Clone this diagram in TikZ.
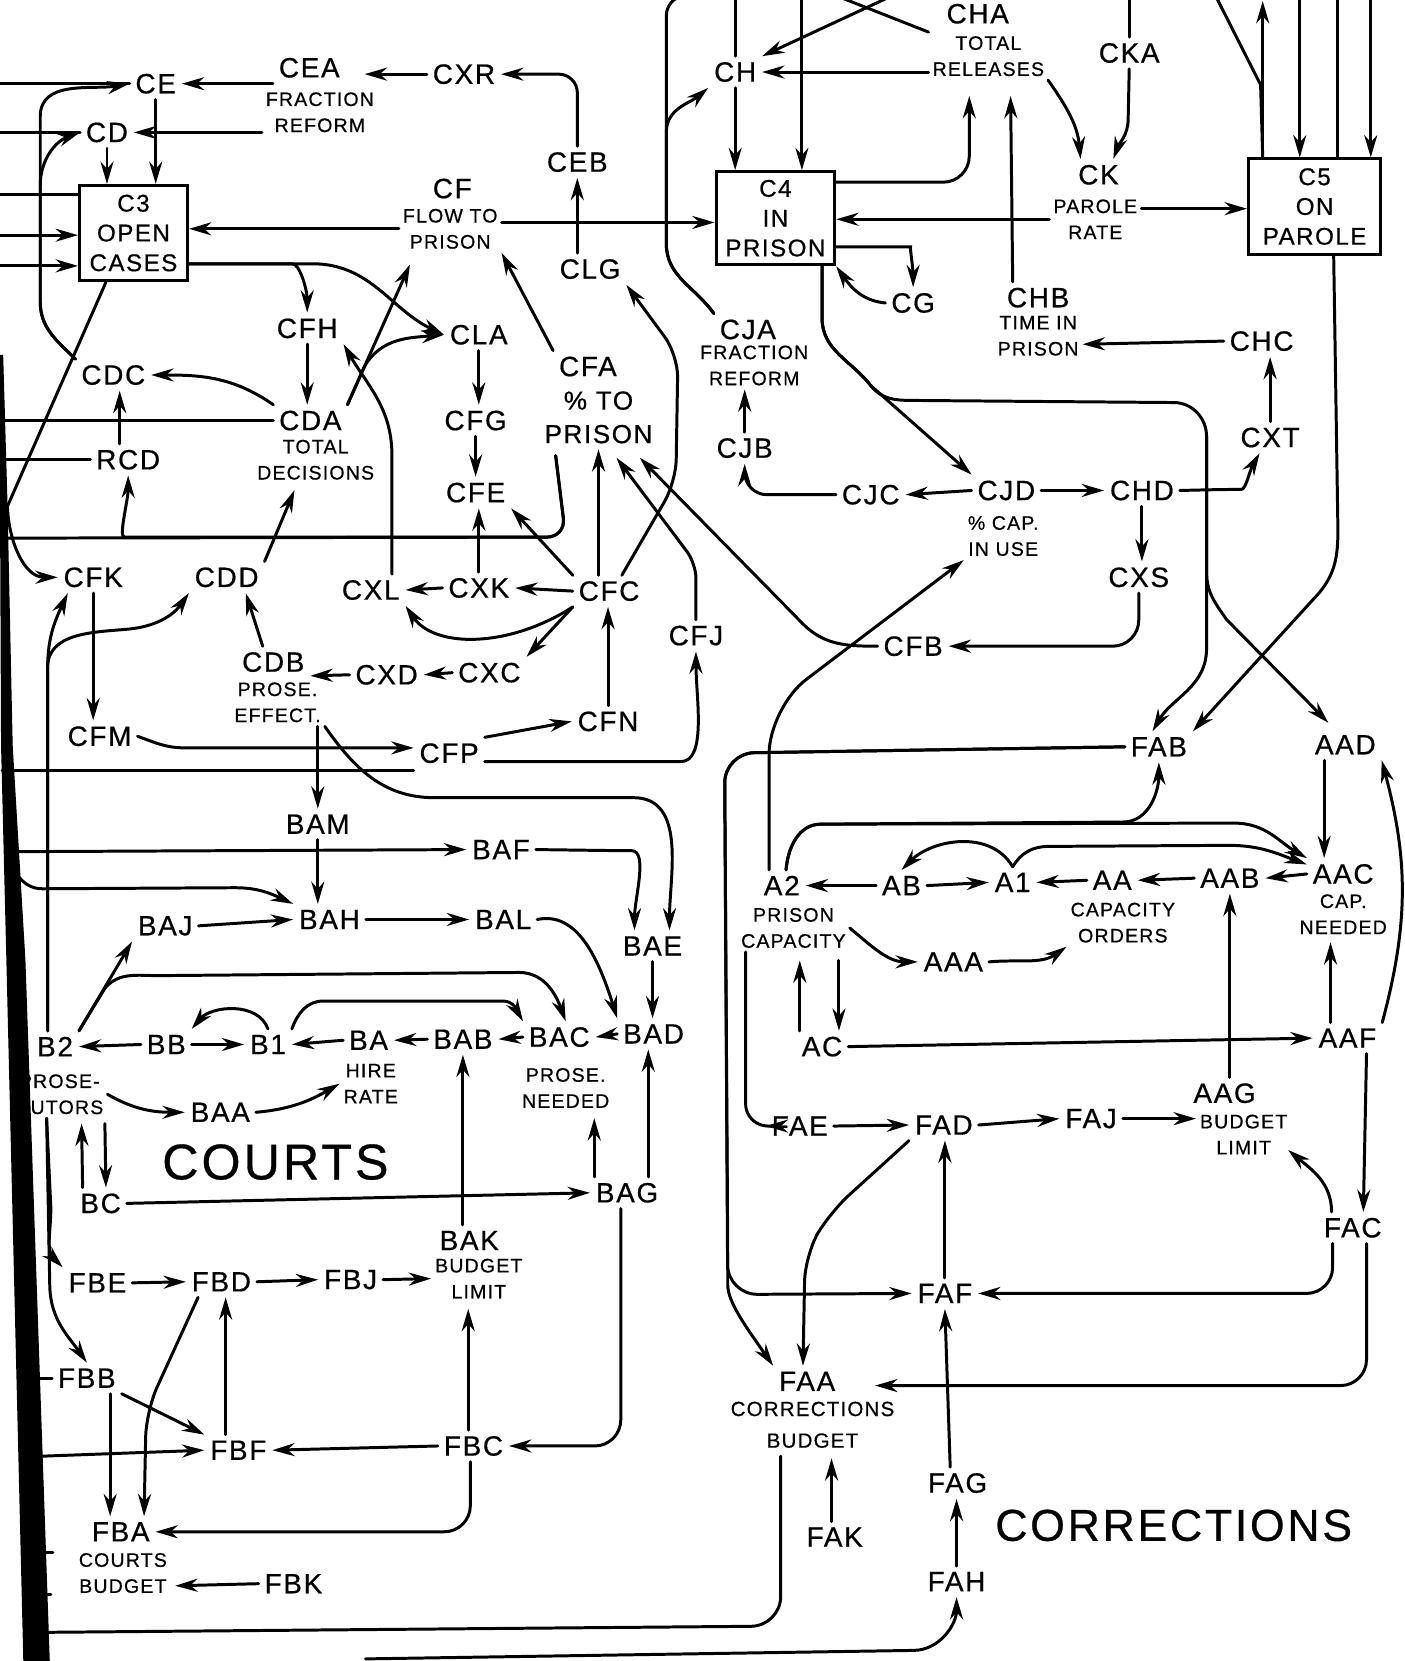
\documentclass[tikz,border=0pt]{standalone}
\usepackage{fontspec}
\setmainfont{Liberation Sans}[LetterSpace=6, FakeBold=0.6]
\usetikzlibrary{arrows.meta,positioning,calc}

\begin{document}
\begin{tikzpicture}[x=0.02cm, y=-0.02cm,
          var/.style={font=\fontsize{15}{17}\selectfont, inner sep=3pt},
          dsc/.style={font=\fontsize{10.5}{14}\selectfont, align=center, inner sep=2pt},
          box/.style={draw, line width=1.6pt, align=center, inner sep=1pt,
                      font=\fontsize{13}{16}\selectfont},
          ttl/.style={font=\fontsize{27}{30}\selectfont, inner sep=2pt},
          ln/.style={line width=1.6pt, line cap=round},
          arr/.style={ln, -{Stealth[length=12pt, width=7pt]}}
        ]
          \useasboundingbox[fill=white] (0,0) rectangle (1326,1568);
          % free ends at the left edge and the top edge
          \coordinate (wL) at (0,0);
          \coordinate (wC3a) at (0,184);
          \coordinate (wC3b) at (0,222);
          \coordinate (wC3c) at (0,251);
          \coordinate (wBot) at (0,508);
          \coordinate (wCFP) at (2,727);
          \coordinate (wBAF) at (8,804);
          \coordinate (wFBB) at (28,1301);
          \coordinate (wFBF) at (30,1375);
          \coordinate (wFBA) at (32,1466);
          \coordinate (wFBA2) at (32,1505);
          \coordinate (wFAA) at (34,1541);
          \coordinate (sFAH) at (345,1566);
          \coordinate (tT) at (0,-2);
          \coordinate (tC4) at (757,-2);
          \coordinate (tCJA) at (645,-3);
          \coordinate (tCHA) at (792,-3);
          \coordinate (tCH2) at (840,-3);
          \coordinate (tCKA) at (1066,-3);
          \coordinate (tC5a) at (1192,1);
          \coordinate (tC5b) at (1148,-3);
          \coordinate (tC5c) at (1227,-3);
          \coordinate (tC5d) at (1263,-3);
          \coordinate (tC5e) at (1294,-3);

          % levels
          \node[box, minimum width=2.04cm, minimum height=1.8cm] (C3) at (126,220) {C3\\OPEN\\CASES};
          \node[box, minimum width=2.24cm, minimum height=1.76cm] (C4) at (732,206) {C4\\IN\\PRISON};
          \node[box, minimum width=2.5cm, minimum height=1.8cm] (C5) at (1241,195) {C5\\ON\\PAROLE};

          % courts variables
          \node[var] (CE) at (147,79) {CE};
          \node[var] (CEA) at (292,64) {CEA};
          \node[dsc] (CEAd) at (302,106) {FRACTION\\REFORM};
          \node[var] (CXR) at (438,70) {CXR};
          \node[var] (CD) at (101,125) {CD};
          \node[var] (CEB) at (545,153) {CEB};
          \node[var] (CF) at (427,178) {CF};
          \node[dsc] (CFd) at (425,216) {FLOW TO\\PRISON};
          \node[var] (CLG) at (557,254) {CLG};
          \node[var] (CFH) at (290,310) {CFH};
          \node[var] (CLA) at (452,316) {CLA};
          \node[var] (CFA) at (555,346) {CFA};
          \node[var, align=center, font=\fontsize{14}{18}\selectfont] (CFAd) at (565,394) {\% TO\\PRISON};
          \node[var] (CDC) at (107,354) {CDC};
          \node[var] (CDA) at (293,397) {CDA};
          \node[dsc] (CDAd) at (298,434) {TOTAL\\DECISIONS};
          \node[var] (CFG) at (449,397) {CFG};
          \node[var] (RCD) at (121,434) {RCD};
          \node[var] (CFE) at (449,465) {CFE};
          \node[var] (CFK) at (88,545) {CFK};
          \node[var] (CDD) at (214,545) {CDD};
          \node[var] (CXL) at (350,557) {CXL};
          \node[var] (CXK) at (452,555) {CXK};
          \node[var] (CFC) at (575,558) {CFC};
          \node[var] (CFJ) at (657,600) {CFJ};
          \node[var] (CDB) at (258,625) {CDB};
          \node[dsc] (CDBd) at (262,663) {PROSE.\\EFFECT.};
          \node[var] (CXD) at (365,637) {CXD};
          \node[var] (CXC) at (462,635) {CXC};
          \node[var] (CFN) at (574,681) {CFN};
          \node[var] (CFM) at (94,695) {CFM};
          \node[var] (CFP) at (424,711) {CFP};
          \node[var] (BAM) at (300,778) {BAM};
          \node[var] (BAF) at (473,802) {BAF};
          \node[var] (BAJ) at (156,874) {BAJ};
          \node[var] (BAH) at (311,868) {BAH};
          \node[var] (BAL) at (475,868) {BAL};
          \node[var] (BAE) at (616,893) {BAE};
          \node[var] (B2) at (52,988) {B2};
          \node[dsc] (B2d) at (56,1033) {PROSE-\\CUTORS};
          \node[var] (BB) at (157,986) {BB};
          \node[var] (B1) at (253,986) {B1};
          \node[var] (BA) at (348,982) {BA};
          \node[dsc] (BAd) at (350,1023) {HIRE\\RATE};
          \node[var] (BAB) at (437,981) {BAB};
          \node[var] (BAC) at (528,979) {BAC};
          \node[dsc] (BACd) at (534,1027) {PROSE.\\NEEDED};
          \node[var] (BAD) at (617,976) {BAD};
          \node[var] (BAA) at (208,1050) {BAA};
          \node[ttl] (courts) at (260,1097) {COURTS};
          \node[var] (BC) at (95,1136) {BC};
          \node[var] (BAG) at (592,1126) {BAG};
          \node[var] (BAK) at (443,1171) {BAK};
          \node[dsc] (BAKd) at (452,1207) {BUDGET\\LIMIT};
          \node[var] (FBE) at (92,1211) {FBE};
          \node[var] (FBD) at (209,1210) {FBD};
          \node[var] (FBJ) at (331,1208) {FBJ};
          \node[var] (FBB) at (82,1301) {FBB};
          \node[var] (FBF) at (225,1369) {FBF};
          \node[var] (FBC) at (447,1365) {FBC};
          \node[var] (FBA) at (114,1446) {FBA};
          \node[dsc] (FBAd) at (116,1485) {COURTS\\BUDGET};
          \node[var] (FBK) at (277,1495) {FBK};

          % corrections variables
          \node[var] (CH) at (694,68) {CH};
          \node[var] (CHA) at (923,13) {CHA};
          \node[dsc] (CHAd) at (933,53) {TOTAL\\RELEASES};
          \node[var] (CKA) at (1066,50) {CKA};
          \node[var] (CK) at (1037,165) {CK};
          \node[dsc] (CKd) at (1034,207) {PAROLE\\RATE};
          \node[var] (CG) at (862,286) {CG};
          \node[var] (CJA) at (706,311) {CJA};
          \node[dsc] (CJAd) at (712,345) {FRACTION\\REFORM};
          \node[var] (CHB) at (980,281) {CHB};
          \node[dsc] (CHBd) at (980,317) {TIME IN\\PRISON};
          \node[var] (CHC) at (1191,322) {CHC};
          \node[var] (CXT) at (1199,413) {CXT};
          \node[var] (CJB) at (703,423) {CJB};
          \node[var] (CJC) at (822,467) {CJC};
          \node[var] (CJD) at (950,463) {CJD};
          \node[dsc] (CJDd) at (947,506) {\% CAP.\\IN USE};
          \node[var] (CHD) at (1078,463) {CHD};
          \node[var] (CXS) at (1075,545) {CXS};
          \node[var] (CFB) at (862,610) {CFB};
          \node[var] (FAB) at (1094,705) {FAB};
          \node[var] (AAD) at (1270,703) {AAD};
          \node[var] (A2) at (738,836) {A2};
          \node[dsc] (A2d) at (749,876) {PRISON\\CAPACITY};
          \node[var] (AB) at (851,836) {AB};
          \node[var] (A1) at (956,833) {A1};
          \node[var] (AA) at (1050,831) {AA};
          \node[dsc] (AAd) at (1060,871) {CAPACITY\\ORDERS};
          \node[var] (AAB) at (1161,829) {AAB};
          \node[var] (AAC) at (1268,825) {AAC};
          \node[dsc] (AACd) at (1268,863) {CAP.\\NEEDED};
          \node[var] (AAA) at (900,908) {AAA};
          \node[var] (AC) at (776,988) {AC};
          \node[var] (AAF) at (1272,980) {AAF};
          \node[var] (AAG) at (1156,1032) {AAG};
          \node[dsc] (AAGd) at (1174,1071) {BUDGET\\LIMIT};
          \node[var] (FAE) at (755,1063) {FAE};
          \node[var] (FAD) at (891,1062) {FAD};
          \node[var] (FAJ) at (1030,1056) {FAJ};
          \node[var] (FAC) at (1277,1159) {FAC};
          \node[var] (FAF) at (892,1221) {FAF};
          \node[var] (FAA) at (762,1304) {FAA};
          \node[dsc, font=\fontsize{11}{17}\selectfont] (FAAd) at (767,1345) {CORRECTIONS\\BUDGET};
          \node[var] (FAG) at (904,1400) {FAG};
          \node[ttl, font=\fontsize{24}{30}\selectfont] (corr) at (1108,1440) {CORRECTIONS};
          \node[var] (FAK) at (788,1451) {FAK};
          \node[var] (FAH) at (903,1493) {FAH};

          % open cases
          \draw[ln] (CE.west) -- (CE.west -| wL);
          \draw[arr] (CEA.west |- CE) -- (CE.east);
          \draw[arr] (CXR.west) -- ($(CEA.east |- CXR.west)+(18,0)$);
          \draw[arr, rounded corners=10pt] (CEB.north) |- (CXR.east);
          \draw[arr] (CLG.north -| CEB) -- (CEB.south);
          \draw[arr] (CEAd.west |- CD) -- (CD.east);
          \draw[ln] (CD.west) -- (CD.west -| wL);
          \draw[arr] (CE.south) -- (CE.south |- C3.north);
          \draw[arr] (CD.south) -- (CD.south |- C3.north);
          \draw[arr] (CDC.north west) to[out=135,in=-90] (38,285) -- (38,110) to[out=90,in=190] (CE.west);
          \draw[arr] (CDC.north west) to[out=135,in=-90] (38,285) -- (38,175) to[out=90,in=200] (CD.west);
          \draw[ln] (wC3a) -- (wC3a -| C3.west);
          \draw[arr] (wC3b) -- (wC3b -| C3.west);
          \draw[arr] (wC3c) -- (wC3c -| C3.west);
          \draw[arr] (CFd.west) -- (CFd.west -| C3.east);
          \draw[arr] ($(CFd.east)+(0,-6)$) -- ($(CFd.east -| C4.west)+(0,-6)$);
          \draw[arr, rounded corners=8pt] ($(C3.east)+(0,29)$) -- (262,249) to[out=0,in=90] (CFH.north);
          \draw[arr] ($(C3.east)+(0,29)$) -- (295,249) to[out=0,in=155] (CLA.west);
          \draw[arr] ($(C3.south)+(-26,0)$) -- (7,478) to[out=-88,in=180] (CFK.west);
          \draw[arr] (CFH.south) -- (CFH.south |- CDA.north);
          \draw[arr] (CDA.north east) -- ($(CFd.south)+(-38,11)$);
          \draw[arr] (CDA.north east) -- (344,346) to[out=60,in=185] (CLA.west);
          \draw[arr] (CDA.north west) to[out=145,in=0] (CDC.east);
          \draw[ln] (CDA.west) -- (CDA.west -| wL);
          \draw[arr] ($(CDC.south |- RCD.north)+(6,0)$) -- ($(CDC.south)+(6,0)$);
          \draw[ln] (RCD.west) -- (RCD.west -| wL);
          \draw[ln, rounded corners=10pt] ($(CFAd.south west)+(16,6)$) -- (534,507) -- (wBot);
          \draw[arr, rounded corners=10pt] ($(CFAd.south west)+(16,6)$) -- (534,507) -- (135,507) to[out=180,in=-90] (RCD.south);
          \draw[arr] (CDD.north east) -- ($(CDAd.south)+(-20,6)$);
          \draw[arr] ($(CXL.north)+(20,0)$) -- (370,430) to[out=90,in=-60] (CFH.south east);
          \draw[arr] (CLA.south) -- (CLA.south |- CFG.north);
          \draw[arr] (CFG.south) -- (CFE.north);
          \draw[arr] (CXK.north) -- (CXK.north |- CFE.south);
          \draw[arr] (CFC.north west) -- (CFE.south east);
          \draw[arr] (CFAd.south |- CFC.north) -- (CFAd.south);
          \draw[arr, rounded corners=12pt] ($(CFC.north)+(12,0)$) -- (638,455) -- (640,335) -- (CLG.south east);
          \draw[arr, rounded corners=8pt] (CFJ.north) -- (657,532) -- ($(CFAd.south)+(17,8)$);
          \draw[arr] (CFB.west) to[out=180,in=-45] (758,589) -- ($(CFAd.south)+(39,8)$);
          \draw[arr] (CFA.north west) -- (CFd.south east);
          \draw[arr] (CFC.west) -- (CXK.east);
          \draw[arr] (CXK.west) -- (CXL.east);
          \draw[arr] (CFC.south west) .. controls (480,612) and (410,612) .. (CXL.south east);
          \draw[arr] (CFC.south west) -- (CXC.north east);
          \draw[arr] (CXC.west) -- (CXD.east);
          \draw[arr] (CXD.west) -- ($(CDB.east)+(0,13)$);
          \draw[arr] ($(CDB.north)+(-10,0)$) -- ($(CDD.south)+(18,0)$);
          \draw[arr] ($(B2.north)+(-7,0)$) -- (45,630) to[out=90,in=-115] ($(CFK.south)+(-24,0)$);
          \draw[arr] ($(B2.north)+(-7,0)$) -- (45,630) to[out=90,in=185] (120,594) to[out=5,in=-125] (CDD.south west);
          \draw[arr] (CFK.south) -- (CFK.south |- CFM.north);
          \draw[arr] (CFM.east) to[out=-20,in=180] (175,706) -- ($(CFP.west)+(0,-5)$);
          \draw[ln] (wCFP -| CFP.west) -- (wCFP);
          \draw[arr] (CFP.north east) -- (CFN.west);
          \draw[arr] (CFN.north) -- (CFN.north |- CFC.south);
          \draw[arr, rounded corners=10pt] ($(CFP.east)+(0,8)$) -- (625,719) to[out=0,in=-90] (CFJ.south);

          % prosecutors
          \draw[arr] (BAM.north |- CDBd.south) -- (BAM.north);
          \draw[arr] (CDBd.south east) to[out=-55,in=180] (410,753) -- (598,753) to[out=0,in=90] ($(BAE.north)+(16,0)$);
          \draw[arr] (BAM.south) -- (BAM.south |- BAH.north);
          \draw[arr] (wBAF) -- (BAF.west);
          \draw[arr] (wBAF) to[out=-80,in=180] (40,839) -- (222,838) to[out=0,in=155] (BAH.north west);
          \draw[arr] (BAJ.east) -- (BAH.west);
          \draw[arr] (BAH.east) -- (BAL.west);
          \draw[arr, rounded corners=8pt] (BAF.east) -- (582,803) to[out=0,in=90] ($(BAE.north)+(-17,0)$);
          \draw[arr] (BAL.east) .. controls (545,860) and (565,905) .. (BAD.north west);
          \draw[arr] (BAE.south) -- (BAE.south |- BAD.north);
          \draw[arr] (B2.north east) -- (BAJ.south west);
          \draw[arr] (B2.north east) -- (99,933) to[out=50,in=180] (150,921) -- (490,918) to[out=0,in=110] ($(BAC.north)+(6,0)$);
          \draw[arr] (BB.west) -- (B2.east);
          \draw[arr] (BB.east) -- (B1.west);
          \draw[arr] (B1.north) to[out=110,in=50] (BB.north east);
          \draw[arr] (B1.north east) to[out=70,in=180] (305,945) -- (475,945) to[out=0,in=120] (BAC.north west);
          \draw[arr] (BA.west) -- (B1.east);
          \draw[arr] (BAB.west) -- (BA.east);
          \draw[arr] (BAC.west) -- (BAB.east);
          \draw[arr] (BAD.west) -- (BAC.east);
          \draw[arr] (B2d.east) to[out=-30,in=180] (BAA.west);
          \draw[arr] (BAA.east) to[out=5,in=-150] (BAd.west);
          \draw[arr] ($(BC.north)+(-17,0)$) -- ($(B2d.south)+(21,5)$);
          \draw[arr] ($(B2d.south)+(43,5)$) -- ($(BC.north)+(5,0)$);
          \draw[arr] (BC.east) -- (BAG.west);
          \draw[arr] (BAB.south |- BAK.north) -- (BAB.south);
          \draw[arr] ($(BAG.north)+(-31,0)$) -- ($(BACd.south)+(27,6)$);
          \draw[arr] ($(BAG.north)+(20,0)$) -- ($(BAD.south)+(-5,0)$);
          \draw[arr, rounded corners=14pt] ($(BAG.south)+(-6,0)$) |- (FBC.east);

          % courts budget
          \draw[arr] ($(B2d.south)+(-12,0)$) -- (48,1140) to[out=-90,in=135] (FBE.north west);
          \draw[arr] ($(B2d.south)+(-12,0)$) -- (47,1215) to[out=-88,in=125] (FBB.north);
          \draw[arr] (FBE.east) -- (FBD.west);
          \draw[arr] (FBD.east) -- (FBJ.west);
          \draw[arr] (FBJ.east) -- (BAKd.west);
          \draw[arr, rounded corners=14pt] ($(FBD.south)+(-22,0)$) -- (138,1332) -- ($(FBA.north)+(22,0)$);
          \draw[arr] ($(FBF.north)+(-12,0)$) -- ($(FBD.south)+(4,0)$);
          \draw[arr] (FBB.south east) -- (FBF.north west);
          \draw[arr] ($(FBB.south)+(22,0)$) -- ($(FBA.north)+(-10,0)$);
          \draw[arr] (wFBF) -- (FBF.west);
          \draw[arr] (FBC.west) -- (FBF.east);
          \draw[arr] ($(FBC.north)+(-5,0)$) -- ($(BAKd.south)+(-10,6)$);
          \draw[arr, rounded corners=14pt] ($(FBC.south)+(-3,0)$) |- (FBA.east);
          \draw[arr] (FBK.west) -- ($(FBAd.east)+(4,12)$);
          \draw[ln] (FBB.west) -- (wFBB);
          \draw[ln] (wFBA) -- ($(wFBA)+(18,0)$);
          \draw[ln] (wFBA2) -- ($(wFBA2)+(16,0)$);
          \draw[ln, rounded corners=16pt] ($(FAAd.south)+(-30,4)$) -- (737,1535) -- (wFAA);
          \draw[arr] (sFAH) -- (862,1558) to[out=0,in=-90] (FAH.south);

          % in prison, on parole
          \draw[ln] (CH.north) -- (CH.north |- tT);
          \draw[arr] (CH.south) -- (CH.south |- C4.north);
          \draw[arr] (tC4) -- (tC4 |- C4.north);
          \draw[ln] (CJA.north west) to[out=125,in=-90] (629,230) -- (629,15) to[out=90,in=180] (tCJA);
          \draw[arr] (CJA.north west) to[out=125,in=-90] (629,230) -- (629,125) to[out=90,in=-140] (CH.south west);
          \draw[ln] (CHAd.north west) -- (tCHA);
          \draw[arr] (tCH2) -- (CH.north east);
          \draw[arr] (CHAd.west |- CH) -- (CH.east);
          \draw[arr, rounded corners=14pt] ($(C4.east)+(0,-34)$) -| ($(CHAd.south)+(-18,15)$);
          \draw[arr] ($(CHB.north)+(-24,0)$) -- ($(CHAd.south)+(21,15)$);
          \draw[arr] (CHAd.south east) to[out=-55,in=95] ($(CK.north)+(-17,0)$);
          \draw[ln] (tCKA) -- (CKA.north);
          \draw[arr] (CKA.south) -- (1065,112) to[out=-90,in=70] ($(CK.north)+(14,0)$);
          \draw[arr] (CKd.west) -- (CKd.west -| C4.east);
          \draw[arr] ($(CKd.east)+(0,-10)$) -- ($(CKd.east -| C5.west)+(0,-10)$);
          \draw[arr, rounded corners=10pt] ($(C4.east)+(0,27)$) -- (842,233) to[out=0,in=90] (CG.north);
          \draw[arr] (CG.west) to[out=175,in=-55] (C4.south east);
          \draw[arr] ($(C4.south)+(44,0)$) -- (776,300) to[out=-90,in=128] (822,364) -- (CJD.north west);
          \draw[arr] ($(C4.south)+(44,0)$) -- (776,300) to[out=-90,in=128] (822,364) to[out=-52,in=180] (860,378)
            -- (1108,380) to[out=0,in=90] (1139,412) -- (1139,612) to[out=-90,in=60] ($(FAB.north)+(-6,0)$);
          \draw[arr] (1139,412) -- (1139,540) to[out=-90,in=125] (1158,585) -- ($(AAD.north)+(-16,-6)$);
          \draw[arr] ($(C5.south)+(18,0)$) -- (1263,500) to[out=-90,in=50] (1245,560) -- (FAB.north east);
          \draw[arr] ($(C5.north)+(-49,0)$) -- (tC5a);
          \draw[ln] (tC5b) -- (1190,80) -- ($(C5.north)+(-49,0)$);
          \draw[arr] (tC5c) -- (tC5c |- C5.north);
          \draw[ln] (tC5d) -- (tC5d |- C5.north);
          \draw[arr] (tC5e) -- (tC5e |- C5.north);
          \draw[arr] (CHC.west) -- ($(CHBd.east)+(0,8)$);
          \draw[arr] (CXT.north) -- (CXT.north |- CHC.south);
          \draw[arr, rounded corners=8pt] (CHD.east) -- (1158,462) to[out=0,in=-120] ($(CXT.south)+(-10,0)$);
          \draw[arr] (CJD.east) -- (CHD.west);
          \draw[arr] (CJD.west) -- (CJC.east);
          \draw[arr, rounded corners=12pt] (CJC.west) -| (CJB.south);
          \draw[arr] (CJB.north) -- (CJB.north |- CJAd.south);
          \draw[arr] (CHD.south) -- (CHD.south |- CXS.north);
          \draw[arr, rounded corners=14pt] (CXS.south) |- (CFB.east);

          % prison capacity
          \draw[arr, rounded corners=25pt] ($(A2.north)+(-12,0)$) -- (726,668) -- (CJDd.south west);
          \draw[arr, rounded corners=16pt] (FAB.west) -- (684,711) -- (687,1222) -- (FAF.west);
          \draw[arr, rounded corners=16pt] (FAB.west) -- (684,711) -- (687,1185) to[out=-90,in=125] (FAA.north west);
          \draw[arr] ($(A2.north)+(4,0)$) to[out=85,in=180] (775,778) -- (1060,776) to[out=0,in=-90] (FAB.south);
          \draw[arr] ($(A2.north)+(4,0)$) to[out=85,in=180] (775,778) -- (1165,777) to[out=0,in=150] (AAC.north west);
          \draw[arr] (A1.north) to[out=120,in=45] (AB.north);
          \draw[arr] (A1.north) to[out=60,in=180] (990,799) -- (1160,798) to[out=0,in=160] ($(AAC.north west)+(0,6)$);
          \draw[arr] (AB.west) -- (A2.east);
          \draw[arr] (AB.east) -- (A1.west);
          \draw[arr] (AA.west) -- (A1.east);
          \draw[arr] (AAB.west) -- (AA.east);
          \draw[arr] (AAC.west) -- (AAB.east);
          \draw[arr] (A2d.east) to[out=-40,in=180] (AAA.west);
          \draw[arr] (AAA.east) to[out=5,in=-145] (AAd.south west);
          \draw[arr] ($(AC.north)+(-21,0)$) -- ($(A2d.south)+(6,8)$);
          \draw[arr] ($(A2d.south)+(43,8)$) -- ($(AC.north)+(16,0)$);
          \draw[arr] (AC.east) -- (AAF.west);
          \draw[arr] (AAB.south |- AAG.north) -- (AAB.south);
          \draw[arr] ($(AAF.north)+(-16,0)$) -- ($(AACd.south)+(-12,4)$);
          \draw[arr] ($(AAD.south)+(-20,0)$) -- ($(AAC.north)+(-18,0)$);
          \draw[arr] (AAF.north east) to[out=75,in=-75] (AAD.south east);
          \draw[arr] ($(AAF.south)+(18,0)$) -- ($(FAC.north)+(10,0)$);

          % corrections budget
          \draw[arr, rounded corners=12pt] ($(A2d.south west)+(8,0)$) |- (FAE.west);
          \draw[arr] (FAE.east) -- (FAD.west);
          \draw[arr] (FAD.east) -- (FAJ.west);
          \draw[arr] (FAJ.east) -- ($(AAGd.west)+(0,-15)$);
          \draw[arr] ($(FAC.north)+(-20,0)$) to[out=90,in=-40] ($(AAGd.south east)+(-3,-8)$);
          \draw[arr, rounded corners=14pt] ($(FAC.south)+(-19,0)$) |- (FAF.east);
          \draw[arr, rounded corners=14pt] ($(FAC.south)+(13,0)$) |- ($(FAA.east)+(32,4)$);
          \draw[arr, rounded corners=14pt] (FAD.south west) -- (783,1145) -- (760,1185) -- ($(FAA.north)+(-4,0)$);
          \draw[arr] (FAF.north) -- (FAF.north |- FAD.south);
          \draw[arr] ($(FAG.north)+(-7,0)$) -- (FAF.south);
          \draw[arr] (FAH.north) -- (FAH.north |- FAG.south);
          \draw[arr] ($(FAK.north)+(-3,0)$) -- ($(FAAd.south)+(18,6)$);

          % thick bar at the left edge
          \fill (0,335) -- (3,335) -- (7,472) -- (12,704) -- (24,906) -- (47,1568)
            -- (22,1568) -- (6,906) -- (1,704) -- (0,472) -- cycle;
        \end{tikzpicture}
\end{document}
